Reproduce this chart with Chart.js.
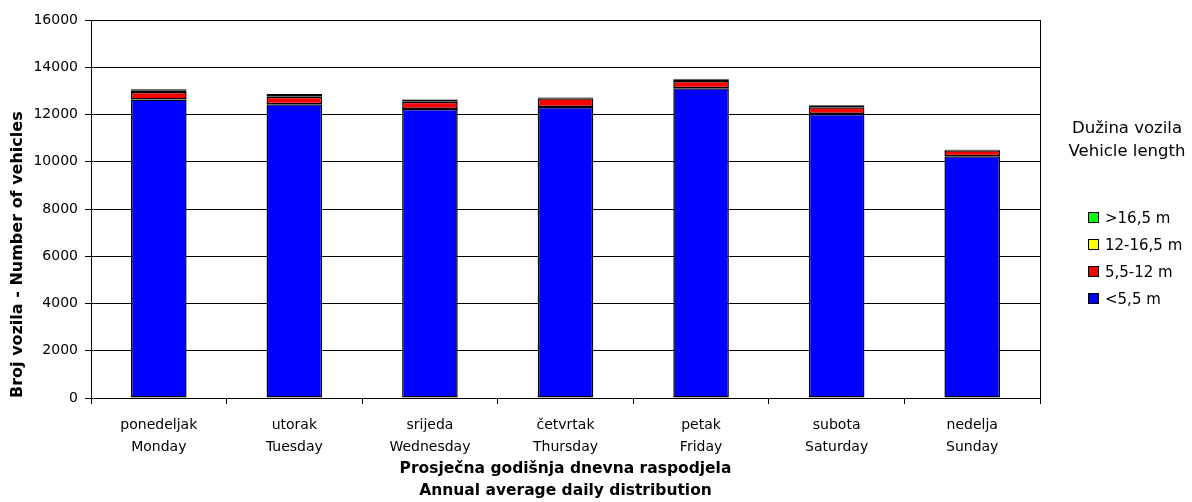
<!DOCTYPE html>
<html>
<head>
<meta charset="utf-8">
<script src="https://cdn.jsdelivr.net/npm/chart.js@4"></script>
<style>
  html, body { margin: 0; padding: 0; background: #fff; }
  #wrap { width: 1192px; height: 502px; }
</style>
</head>
<body>
<div id="wrap"><canvas id="vehicleChart" width="1192" height="502"></canvas></div>
<script>
const days = [
    ['ponedeljak', 'Monday'],
    ['utorak', 'Tuesday'],
    ['srijeda', 'Wednesday'],
    ['četvrtak', 'Thursday'],
    ['petak', 'Friday'],
    ['subota', 'Saturday'],
    ['nedelja', 'Sunday']
];

// vehicles per day, by length class
const under55 = [12640, 12430, 12230, 12320, 13110, 12020, 10230];
const from55to12 = [310, 320, 310, 370, 310, 285, 260];
const from12to165 = [80, 80, 80, 30, 70, 60, 20];
const over165 = [35, 35, 30, 10, 25, 25, 5];

const yTicks = [0, 2000, 4000, 6000, 8000, 10000, 12000, 14000, 16000];

const FONT = 'DejaVu Sans, Verdana, sans-serif';

const vehicleData = {
    labels: days,
    datasets: [
        { label: '<5,5 m', data: under55, backgroundColor: '#0000ff' },
        { label: '5,5-12 m', data: from55to12, backgroundColor: '#ff0000' },
        { label: '12-16,5 m', data: from12to165, backgroundColor: '#ffff00' },
        { label: '>16,5 m', data: over165, backgroundColor: '#00ff00' }
    ].map(ds => Object.assign(ds, {
        borderColor: '#000',
        borderWidth: 1.5,
        borderSkipped: false,
        barPercentage: 0.41,
        categoryPercentage: 1
    }))
};

// legend at the right, drawn by hand so the two-line title fits
const sideLegend = {
    id: 'sideLegend',
    afterDraw(chart) {
        const ctx = chart.ctx;
        ctx.save();
        ctx.fillStyle = '#000';
        ctx.textAlign = 'center';
        ctx.textBaseline = 'middle';
        ctx.font = '16.5px ' + FONT;
        ctx.fillText('Dužina vozila', 1127, 129);
        ctx.fillText('Vehicle length', 1127, 152);

        const items = chart.data.datasets.slice().reverse();
        ctx.font = '15px ' + FONT;
        ctx.textAlign = 'left';
        items.forEach((ds, i) => {
            const y = 218 + i * 27;
            ctx.fillStyle = ds.backgroundColor;
            ctx.fillRect(1088.5, y - 5.5, 10, 10);
            ctx.strokeStyle = '#000';
            ctx.lineWidth = 1;
            ctx.strokeRect(1088.5, y - 5.5, 10, 10);
            ctx.fillStyle = '#000';
            ctx.fillText(ds.label, 1105, y + 1);
        });

        // plot frame on the right side
        const a = chart.chartArea;
        ctx.strokeStyle = '#000';
        ctx.beginPath();
        ctx.moveTo(Math.round(a.right) + 0.5, a.top);
        ctx.lineTo(Math.round(a.right) + 0.5, a.bottom);
        ctx.stroke();
        ctx.restore();
    }
};

const config = {
    type: 'bar',
    data: vehicleData,
    options: {
        responsive: false,
        animation: false,
        layout: { padding: { top: 20, right: 152, left: 0, bottom: 0 } },
        plugins: {
            legend: { display: false },
            tooltip: { enabled: false }
        },
        scales: {
            x: {
                stacked: true,
                afterFit: s => { s.height = 104; },
                grid: {
                    offset: true,
                    drawOnChartArea: false,
                    color: '#000',
                    tickLength: 6
                },
                border: { color: '#000' },
                ticks: {
                    color: '#000',
                    padding: 10,
                    font: { family: FONT, size: 14, lineHeight: 1.6 }
                },
                title: {
                    display: true,
                    text: ['Prosječna godišnja dnevna raspodjela', 'Annual average daily distribution'],
                    color: '#000',
                    padding: { top: 0, bottom: 0 },
                    font: { family: FONT, size: 15.5, weight: 'bold', lineHeight: 1.4 }
                }
            },
            y: {
                stacked: true,
                min: 0,
                max: 16000,
                afterFit: s => { s.width = 91; },
                afterBuildTicks: s => { s.ticks = yTicks.map(v => ({ value: v })); },
                grid: { color: '#000', tickLength: 6 },
                border: { color: '#000' },
                ticks: {
                    color: '#000',
                    padding: 7,
                    font: { family: FONT, size: 14 },
                    callback: v => String(v)
                },
                title: {
                    display: true,
                    text: 'Broj vozila - Number of vehicles',
                    align: 'start',
                    color: '#000',
                    padding: { top: 8, bottom: 0 },
                    font: { family: FONT, size: 16, weight: 'bold', lineHeight: 1.2 }
                }
            }
        }
    },
    plugins: [sideLegend]
};

const ctx = document.getElementById('vehicleChart').getContext('2d');
const vehicleChart = new Chart(ctx, config);
</script>
</body>
</html>
